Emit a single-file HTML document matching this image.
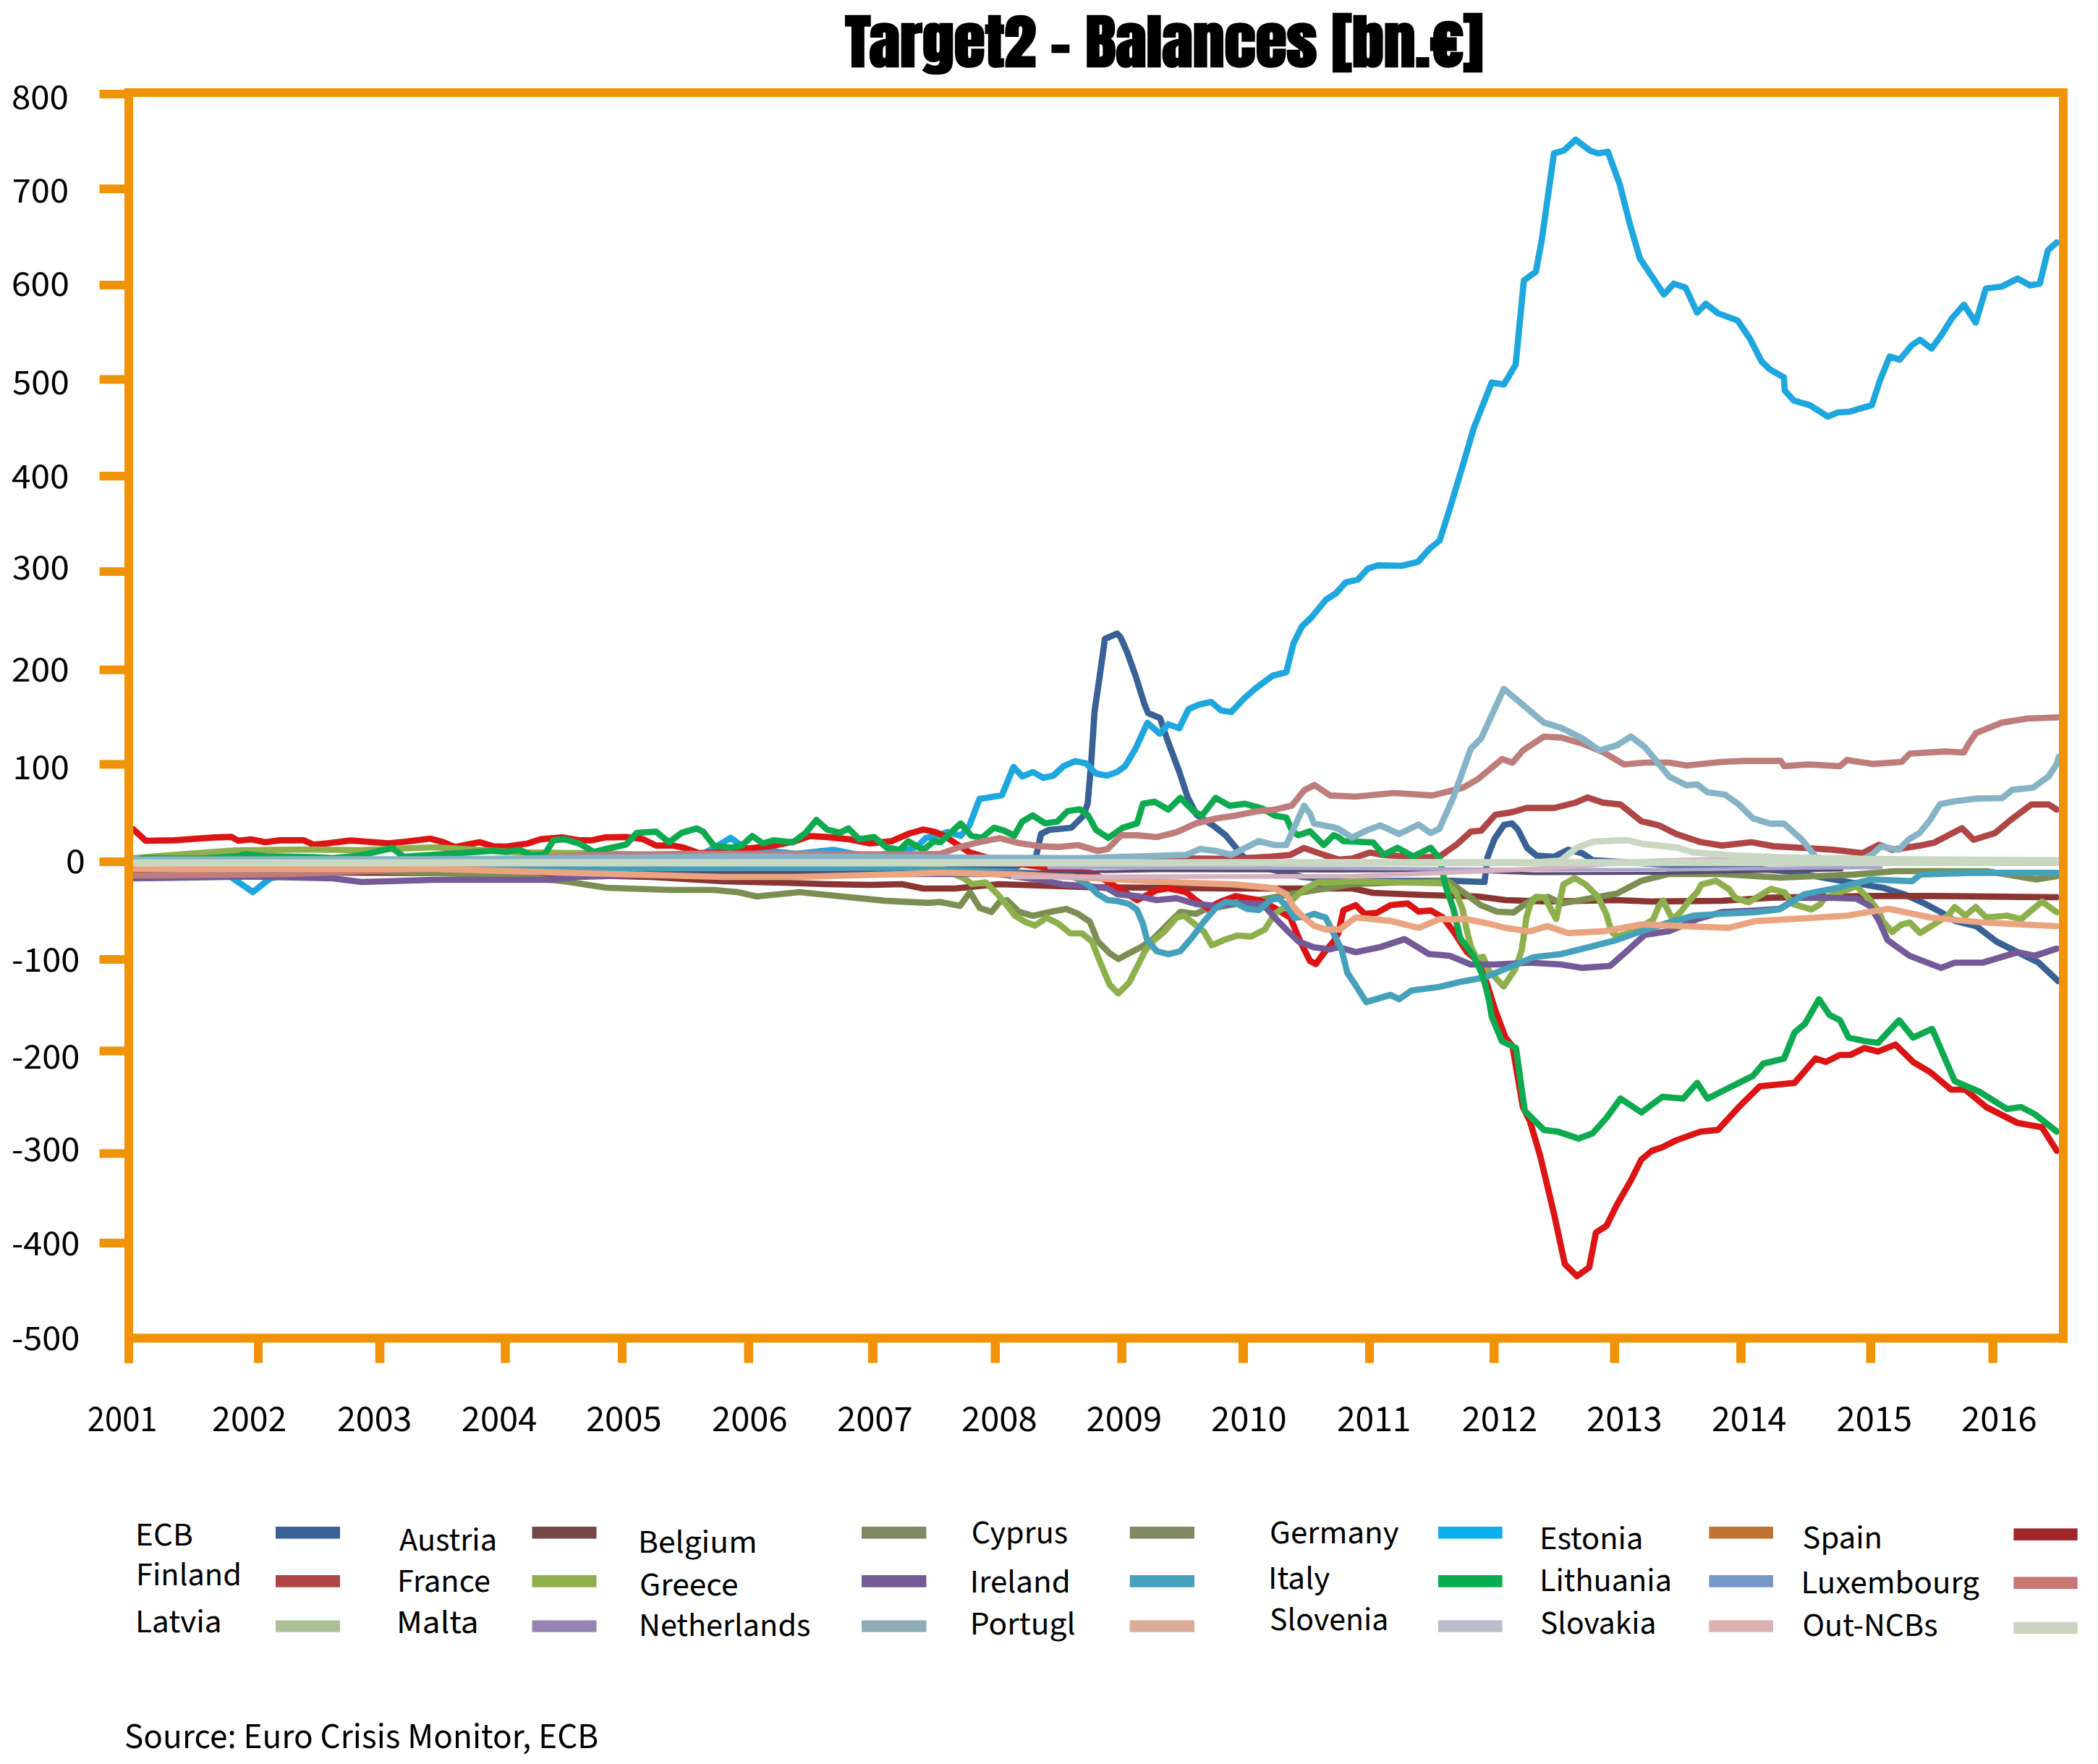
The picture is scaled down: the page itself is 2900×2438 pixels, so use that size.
<!DOCTYPE html>
<html><head><meta charset="utf-8"><title>Target2 - Balances</title>
<style>
html,body{margin:0;padding:0;background:#fff;}
body{width:2900px;height:2438px;overflow:hidden;}
svg{display:block;}
.t{font-family:"Anton","Liberation Sans",sans-serif;font-weight:700;font-synthesis:none;}
.m{font-family:"Source Sans 3","Liberation Sans",sans-serif;}
</style></head><body>
<svg width="2900" height="2438" viewBox="0 0 2900 2438">
<rect x="0" y="0" width="2900" height="2438" fill="#fff"/>

<text class="t" x="1168.5" y="92.3" font-size="81" textLength="882" lengthAdjust="spacingAndGlyphs" fill="#000" stroke="#000" stroke-width="2.6" stroke-linejoin="miter">Target2 - Balances [bn.€]</text>
<g fill="none" stroke-linejoin="round" stroke-linecap="round">
<polyline stroke="#3a6196" stroke-width="8.7" points="184.0,1203.0 800.0,1203.0 1400.0,1200.0 1432.0,1184.0 1439.0,1152.5 1450.0,1147.0 1481.0,1144.0 1498.0,1127.0 1503.5,1110.0 1508.3,1054.5 1513.0,983.0 1520.0,935.3 1527.3,883.0 1544.0,875.7 1548.8,880.5 1558.3,902.0 1570.0,935.0 1582.0,973.5 1587.0,985.4 1603.6,992.5 1613.0,1021.0 1630.0,1066.4 1641.7,1102.0 1654.0,1126.0 1677.0,1141.0 1694.0,1154.3 1707.5,1170.6 1718.4,1184.0 1750.0,1200.0 1800.0,1212.0 1860.0,1218.0 2000.0,1217.0 2052.0,1219.0 2056.0,1185.0 2066.0,1159.0 2079.0,1140.0 2090.0,1138.0 2098.0,1146.4 2111.0,1172.0 2124.0,1182.5 2148.5,1184.0 2167.7,1174.4 2187.0,1179.2 2201.4,1188.8 2300.0,1195.0 2420.0,1200.0 2479.0,1205.0 2504.0,1210.0 2566.0,1221.0 2603.0,1227.0 2631.5,1235.8 2660.0,1248.6 2681.5,1260.0 2703.0,1273.0 2731.6,1280.0 2760.0,1301.5 2788.8,1316.0 2817.4,1330.0 2845.0,1356.0"/>
<polyline stroke="#8a3532" stroke-width="8.7" points="184.0,1205.0 700.0,1207.0 900.0,1212.0 1000.0,1218.0 1084.0,1220.0 1143.0,1222.0 1202.0,1223.0 1247.0,1222.0 1276.0,1228.0 1320.0,1228.0 1381.0,1222.0 1500.0,1226.0 1700.0,1228.0 1870.0,1228.0 1898.0,1234.0 1970.0,1237.0 2043.0,1239.0 2081.0,1244.0 2139.0,1246.0 2235.0,1244.0 2283.0,1246.0 2380.0,1245.0 2449.0,1240.7 2586.0,1238.4 2677.5,1238.4 2843.0,1240.0"/>
<polyline stroke="#7b8f52" stroke-width="8.7" points="184.0,1200.0 500.0,1203.0 700.0,1210.0 780.0,1218.0 839.0,1227.0 927.8,1230.0 987.0,1230.0 1020.0,1233.0 1046.0,1239.0 1105.0,1233.0 1164.0,1239.0 1223.0,1244.8 1282.0,1247.8 1300.0,1246.7 1327.0,1252.0 1340.8,1233.0 1354.3,1254.9 1370.6,1260.3 1381.5,1246.7 1392.0,1244.0 1408.7,1260.3 1427.7,1265.7 1452.0,1260.3 1473.9,1256.2 1490.2,1263.0 1506.5,1273.9 1517.4,1301.0 1533.7,1317.4 1545.9,1325.5 1560.8,1317.4 1577.0,1309.2 1593.4,1298.3 1615.0,1276.6 1631.5,1260.3 1653.2,1263.0 1664.0,1257.6 1694.0,1252.0 1789.0,1235.0 1870.0,1222.0 2001.0,1217.0 2024.0,1234.0 2046.7,1251.0 2069.4,1260.0 2092.0,1261.2 2109.0,1248.8 2120.4,1242.0 2140.0,1239.7 2158.0,1248.7 2235.0,1235.0 2268.8,1217.4 2307.0,1207.8 2379.6,1207.8 2460.0,1213.0 2563.0,1208.6 2620.0,1204.0 2746.0,1204.0 2815.0,1215.5 2843.0,1211.0"/>
<polyline stroke="#1ea6de" stroke-width="8.7" points="184.0,1200.0 300.0,1203.0 320.0,1212.7 349.5,1232.8 373.5,1214.0 420.0,1204.0 600.0,1200.0 800.0,1198.0 950.0,1192.0 990.0,1170.0 1010.0,1158.0 1030.0,1172.0 1100.0,1180.0 1152.0,1174.6 1200.0,1184.0 1250.0,1176.0 1268.0,1170.0 1280.0,1158.0 1292.0,1156.0 1310.0,1150.0 1328.0,1155.0 1340.0,1141.0 1354.0,1104.0 1362.0,1103.0 1385.0,1099.0 1401.0,1060.0 1413.0,1073.0 1428.0,1067.0 1442.0,1075.0 1456.0,1072.0 1470.0,1059.0 1486.0,1052.0 1501.0,1055.0 1515.0,1069.0 1530.0,1072.0 1544.0,1067.0 1555.0,1059.0 1569.0,1036.0 1586.0,999.0 1603.0,1014.0 1615.0,1001.0 1630.0,1006.5 1643.0,980.0 1657.0,974.0 1674.0,970.0 1688.0,982.0 1702.0,984.0 1720.0,965.0 1736.0,951.0 1759.0,934.0 1778.0,929.0 1788.0,889.0 1799.5,866.0 1813.0,853.0 1832.7,829.0 1846.5,820.0 1860.0,805.0 1877.0,801.0 1890.8,785.8 1904.6,781.4 1937.8,782.0 1960.0,776.5 1976.5,758.0 1990.0,747.0 2004.0,703.0 2020.7,647.6 2037.0,592.0 2062.0,528.7 2078.7,531.5 2095.0,504.0 2106.4,387.8 2123.0,375.6 2131.0,332.5 2148.0,212.0 2161.7,208.0 2178.0,193.0 2197.6,208.0 2208.7,212.0 2222.5,209.7 2239.0,255.0 2253.0,310.0 2266.7,357.0 2300.0,407.0 2313.7,392.0 2330.0,397.7 2345.8,432.0 2358.0,419.8 2374.6,433.0 2402.0,443.0 2418.8,468.0 2435.0,499.5 2446.4,510.5 2465.8,521.6 2467.0,539.8 2479.6,553.6 2501.7,560.0 2526.6,575.7 2540.4,570.0 2557.0,569.0 2570.8,564.7 2587.4,560.0 2598.5,526.0 2612.0,492.8 2626.0,497.0 2642.7,477.0 2653.8,469.6 2670.0,481.7 2684.0,462.4 2698.0,440.0 2714.6,421.0 2731.0,445.8 2745.0,398.8 2767.0,396.0 2789.0,385.0 2805.8,394.4 2819.6,392.0 2830.7,346.0 2843.0,335.0"/>
<polyline stroke="#dc1414" stroke-width="8.7" points="184.0,1146.0 201.4,1162.0 240.0,1161.4 297.4,1157.4 320.0,1156.7 329.5,1162.0 346.8,1160.0 366.8,1164.0 386.9,1161.4 420.0,1161.4 433.6,1167.4 453.0,1165.5 484.6,1161.6 537.0,1165.5 563.0,1163.0 594.7,1159.0 613.0,1164.0 628.8,1170.8 647.0,1167.0 663.0,1164.0 681.0,1169.5 700.0,1170.0 729.6,1165.7 747.3,1159.8 776.8,1157.4 800.5,1161.3 818.2,1161.3 836.0,1157.4 865.5,1156.8 889.0,1159.8 906.9,1168.7 930.5,1168.7 945.3,1171.6 966.0,1179.0 1000.0,1178.0 1040.0,1172.0 1069.4,1168.7 1099.0,1162.7 1119.6,1155.4 1143.3,1156.8 1172.8,1159.8 1202.4,1165.7 1232.0,1162.7 1255.6,1152.4 1276.3,1146.5 1291.0,1149.4 1305.8,1155.4 1320.0,1165.0 1340.0,1178.0 1380.0,1190.0 1450.0,1200.0 1512.0,1207.0 1550.0,1230.0 1571.7,1244.0 1598.9,1230.4 1615.0,1227.7 1639.6,1233.0 1653.0,1244.0 1669.5,1255.0 1690.0,1245.0 1707.5,1238.6 1740.0,1244.0 1762.0,1255.0 1783.6,1268.4 1797.2,1301.0 1810.8,1328.2 1819.0,1332.3 1829.8,1317.4 1843.4,1301.0 1850.0,1289.6 1857.0,1258.0 1874.0,1251.0 1886.0,1263.0 1903.0,1261.7 1922.0,1251.0 1946.0,1248.7 1960.7,1259.8 1977.6,1258.3 1994.4,1268.0 2009.0,1287.0 2028.0,1316.0 2042.6,1328.0 2054.6,1357.0 2066.6,1395.5 2081.0,1434.0 2090.7,1446.0 2105.0,1530.0 2114.8,1549.6 2129.0,1597.7 2148.5,1679.6 2163.0,1747.0 2179.8,1763.8 2196.6,1751.8 2206.0,1703.6 2220.7,1694.0 2235.0,1665.0 2254.4,1631.4 2268.8,1602.5 2283.3,1590.5 2297.7,1585.7 2317.0,1576.0 2350.7,1564.0 2374.7,1561.6 2403.6,1530.0 2432.5,1501.4 2456.6,1499.0 2480.6,1496.6 2509.5,1463.0 2524.0,1467.7 2543.0,1458.0 2557.7,1458.0 2577.0,1448.5 2596.0,1453.3 2620.0,1443.7 2644.4,1467.7 2668.4,1482.0 2697.0,1506.0 2716.6,1506.0 2745.4,1530.0 2788.8,1552.0 2822.5,1558.0 2843.0,1590.5"/>
<polyline stroke="#b04545" stroke-width="8.7" points="184.0,1192.0 1400.0,1191.0 1536.0,1187.0 1600.0,1186.0 1700.0,1187.0 1756.4,1184.0 1783.6,1181.5 1802.6,1172.0 1829.8,1181.5 1850.0,1188.0 1869.0,1186.5 1893.3,1178.3 1912.6,1181.6 1960.7,1185.0 1989.6,1184.0 2013.7,1167.0 2033.0,1149.4 2047.4,1148.0 2066.6,1126.3 2090.7,1122.4 2110.0,1116.6 2148.5,1116.6 2177.4,1109.4 2194.2,1102.2 2216.0,1109.4 2240.0,1111.8 2268.8,1135.0 2293.0,1140.7 2317.0,1152.7 2350.7,1163.8 2380.0,1168.6 2421.0,1164.0 2451.8,1169.6 2494.0,1172.0 2533.6,1174.4 2574.5,1179.0 2597.0,1167.5 2615.5,1174.4 2654.6,1168.6 2673.0,1164.8 2712.0,1144.6 2728.0,1160.6 2757.6,1151.4 2779.0,1133.5 2808.0,1111.8 2832.0,1111.8 2843.0,1119.0"/>
<polyline stroke="#8db04d" stroke-width="8.7" points="184.0,1186.0 253.4,1180.7 286.8,1178.0 326.8,1175.4 420.0,1174.0 500.0,1175.0 600.0,1171.0 720.0,1178.0 850.0,1180.0 1000.0,1185.0 1200.0,1190.0 1300.0,1200.0 1332.6,1214.0 1343.5,1222.0 1362.5,1219.5 1378.8,1235.8 1392.4,1252.0 1403.2,1265.7 1416.8,1274.0 1430.4,1279.3 1446.7,1268.4 1463.0,1276.6 1479.3,1290.0 1495.6,1290.0 1509.2,1301.0 1520.0,1328.0 1533.7,1360.8 1545.9,1373.0 1560.8,1358.0 1571.7,1336.4 1582.6,1314.6 1593.4,1301.0 1609.7,1287.5 1626.0,1268.4 1636.9,1265.7 1650.5,1276.6 1664.0,1287.5 1675.0,1306.5 1694.0,1298.3 1710.3,1293.0 1729.3,1294.3 1748.3,1284.7 1761.9,1263.0 1778.2,1252.0 1794.5,1235.8 1805.3,1227.7 1821.6,1219.5 1843.4,1219.5 1870.0,1218.0 2000.0,1221.0 2007.0,1228.3 2012.7,1234.0 2021.7,1256.7 2027.4,1285.0 2033.0,1307.7 2041.0,1324.7 2050.0,1322.4 2058.0,1341.7 2078.4,1363.3 2094.3,1339.5 2103.4,1313.4 2110.0,1268.0 2114.7,1251.0 2122.7,1239.7 2135.0,1240.0 2151.0,1270.0 2161.0,1222.5 2176.6,1213.5 2192.0,1222.5 2207.5,1238.0 2213.0,1248.4 2220.5,1263.6 2224.3,1277.4 2229.7,1290.0 2235.8,1294.0 2250.0,1290.0 2270.0,1280.0 2285.0,1271.0 2293.0,1252.0 2299.0,1244.6 2304.4,1256.0 2312.0,1271.0 2323.5,1260.0 2335.0,1244.6 2346.0,1233.0 2351.7,1222.5 2372.0,1217.3 2390.0,1229.0 2398.6,1241.0 2417.0,1247.0 2448.0,1228.5 2466.8,1233.5 2479.0,1249.6 2504.0,1257.0 2516.0,1249.6 2522.5,1241.0 2566.0,1224.8 2584.5,1243.4 2597.0,1259.5 2603.0,1274.0 2615.5,1288.0 2628.0,1278.0 2640.0,1275.0 2654.0,1289.6 2692.5,1265.5 2702.0,1253.5 2716.6,1265.5 2731.0,1253.5 2745.4,1268.0 2774.3,1265.5 2793.6,1270.4 2822.5,1246.0 2843.0,1260.7"/>
<polyline stroke="#745a96" stroke-width="8.7" points="184.0,1214.0 346.8,1211.4 460.0,1214.0 500.0,1219.0 600.0,1216.0 759.0,1216.0 800.0,1212.0 900.0,1209.0 1200.0,1208.0 1380.0,1208.0 1441.3,1216.8 1468.4,1222.3 1506.5,1225.0 1531.0,1227.7 1544.5,1235.8 1571.7,1238.6 1598.9,1244.0 1626.0,1241.3 1653.2,1249.4 1680.4,1252.0 1707.5,1248.0 1745.6,1249.4 1762.0,1268.4 1778.0,1284.7 1794.5,1301.0 1816.2,1309.2 1838.0,1312.0 1850.0,1309.0 1874.0,1316.0 1907.8,1309.0 1941.5,1298.0 1975.0,1318.5 2004.0,1321.0 2033.0,1333.0 2066.6,1333.0 2114.8,1330.5 2158.0,1333.0 2187.0,1337.7 2225.5,1335.0 2249.6,1313.7 2273.6,1292.0 2307.0,1287.0 2345.9,1270.4 2379.6,1260.7 2427.7,1258.3 2460.0,1256.0 2485.0,1241.0 2533.6,1241.0 2566.0,1242.0 2584.5,1252.0 2597.0,1272.0 2609.0,1299.0 2615.5,1304.0 2639.5,1321.0 2683.0,1337.7 2702.0,1330.5 2740.6,1330.5 2788.8,1316.0 2812.8,1321.0 2843.0,1311.0"/>
<polyline stroke="#45a0bb" stroke-width="8.7" points="184.0,1200.0 1000.0,1201.0 1200.0,1200.0 1400.0,1205.0 1480.0,1210.0 1503.8,1222.3 1517.4,1235.8 1531.0,1244.0 1544.5,1245.4 1560.8,1249.4 1571.7,1257.6 1579.8,1276.6 1585.3,1298.3 1598.9,1314.6 1615.2,1318.7 1631.5,1314.6 1647.8,1295.6 1664.0,1273.9 1680.4,1254.9 1694.0,1246.7 1707.5,1248.0 1723.8,1256.2 1740.1,1257.6 1756.4,1244.0 1767.3,1241.3 1778.2,1252.0 1789.0,1268.4 1805.3,1267.0 1816.2,1263.0 1832.5,1268.4 1843.4,1290.2 1854.2,1312.0 1862.4,1344.5 1874.0,1362.0 1888.5,1385.0 1922.0,1375.0 1934.0,1381.0 1951.0,1369.0 1989.6,1364.0 2018.5,1357.0 2052.0,1351.0 2090.7,1335.0 2119.6,1323.0 2158.0,1318.5 2196.6,1309.0 2235.0,1299.0 2268.8,1287.0 2307.0,1275.0 2341.0,1265.5 2379.6,1263.0 2427.7,1260.7 2460.0,1256.7 2494.0,1236.0 2540.0,1227.0 2586.0,1215.5 2643.0,1217.8 2654.6,1208.6 2723.0,1206.4 2843.0,1206.4"/>
<polyline stroke="#0eaa4f" stroke-width="8.7" points="184.0,1190.0 200.0,1186.0 220.0,1186.0 266.7,1186.7 286.8,1186.0 326.8,1183.4 340.0,1180.7 366.8,1183.4 433.6,1184.7 460.0,1186.0 500.0,1182.0 542.0,1172.0 558.0,1184.0 620.0,1180.0 680.0,1176.0 700.0,1177.5 717.7,1174.6 735.5,1182.0 753.0,1180.5 765.0,1161.3 779.8,1159.8 800.5,1165.7 821.0,1177.5 838.9,1173.0 865.5,1167.2 880.3,1151.0 906.9,1149.4 924.6,1164.2 942.3,1151.0 963.0,1145.0 971.9,1149.4 986.6,1168.7 1010.3,1171.6 1025.0,1168.7 1039.8,1155.4 1054.6,1165.7 1069.4,1161.3 1096.0,1164.2 1113.7,1151.0 1128.5,1133.2 1143.3,1146.5 1161.0,1151.0 1172.8,1145.0 1187.6,1159.8 1208.3,1156.8 1226.0,1171.6 1243.7,1174.6 1255.6,1162.7 1276.3,1174.6 1291.0,1162.7 1300.0,1164.0 1328.0,1138.0 1342.5,1155.0 1357.0,1158.0 1374.0,1144.0 1388.0,1148.0 1402.0,1155.0 1413.0,1135.5 1427.5,1127.0 1444.6,1138.0 1461.6,1135.5 1475.7,1121.0 1492.7,1118.5 1504.0,1127.0 1515.0,1147.0 1532.0,1158.0 1552.0,1144.0 1571.7,1138.0 1579.8,1110.9 1596.0,1108.0 1615.0,1119.0 1631.5,1102.7 1650.5,1121.7 1661.4,1127.2 1680.4,1102.7 1699.4,1113.6 1721.0,1110.9 1745.6,1117.7 1762.0,1127.2 1778.0,1130.0 1786.3,1149.0 1794.5,1154.3 1810.8,1149.0 1829.8,1168.0 1843.4,1154.3 1850.0,1157.0 1857.0,1162.5 1898.0,1164.4 1912.6,1181.3 1931.8,1171.7 1953.5,1183.7 1977.6,1171.7 1989.6,1186.0 1999.0,1227.0 2009.0,1256.0 2018.3,1296.4 2035.4,1319.0 2046.7,1341.7 2052.4,1358.7 2058.0,1381.4 2062.0,1405.0 2076.0,1438.8 2095.5,1448.5 2107.6,1535.0 2134.0,1561.6 2153.3,1564.0 2182.0,1573.6 2201.4,1566.4 2220.7,1544.8 2240.0,1518.3 2268.8,1537.5 2297.7,1515.9 2326.6,1518.3 2345.9,1496.6 2360.3,1518.3 2394.0,1501.4 2423.0,1487.0 2437.3,1470.0 2466.0,1463.0 2480.6,1426.8 2495.0,1414.8 2514.3,1381.0 2528.8,1402.7 2543.2,1410.0 2555.3,1434.0 2577.0,1438.8 2596.0,1441.3 2625.0,1410.0 2644.4,1434.0 2670.8,1422.0 2702.0,1494.2 2735.8,1508.7 2774.3,1532.7 2793.6,1530.0 2812.8,1540.0 2843.0,1564.0"/>
<polyline stroke="#be7c7b" stroke-width="8.7" points="184.0,1210.0 400.0,1208.0 600.0,1200.0 700.0,1190.0 800.0,1182.0 950.0,1180.0 1100.0,1180.0 1250.0,1181.0 1300.0,1180.0 1327.0,1170.6 1354.3,1163.8 1381.5,1158.4 1408.7,1165.2 1435.8,1169.3 1463.0,1170.6 1490.2,1168.0 1517.4,1176.0 1531.0,1173.4 1550.0,1154.3 1571.7,1154.3 1598.9,1157.0 1626.0,1150.3 1653.2,1138.0 1680.4,1131.2 1707.5,1127.2 1734.7,1121.7 1761.9,1119.0 1785.6,1113.5 1803.0,1092.0 1817.0,1085.0 1838.6,1099.4 1874.0,1101.0 1927.0,1096.0 1980.0,1099.4 2022.0,1088.8 2042.6,1077.0 2076.3,1049.2 2090.7,1054.0 2105.0,1037.2 2134.0,1018.0 2158.0,1019.4 2187.0,1027.6 2216.0,1039.6 2244.8,1056.5 2273.6,1054.0 2307.3,1054.0 2331.4,1058.0 2379.6,1053.0 2413.0,1051.6 2461.4,1051.6 2466.2,1058.9 2500.0,1056.5 2543.2,1058.9 2553.0,1050.2 2560.0,1051.5 2588.6,1055.8 2628.6,1053.0 2640.0,1041.5 2688.7,1038.6 2714.4,1040.0 2721.6,1027.2 2731.6,1013.0 2767.4,998.6 2803.0,993.0 2845.0,991.5"/>
<polyline stroke="#5a4a72" stroke-width="4" points="800.0,1206.5 1500.0,1205.0 1600.0,1203.5 1850.0,1204.0 2000.0,1203.0 2120.0,1207.5 2300.0,1207.0 2400.0,1205.0 2546.0,1202.5"/>
<polyline stroke="#86b3c6" stroke-width="8.7" points="184.0,1188.0 600.0,1187.5 900.0,1185.0 1000.0,1183.5 1300.0,1185.0 1500.0,1186.0 1639.6,1181.5 1658.6,1173.4 1680.4,1176.0 1702.0,1181.5 1718.4,1173.4 1740.0,1162.5 1761.9,1168.0 1778.0,1168.0 1789.0,1143.5 1802.6,1113.6 1810.8,1124.5 1816.2,1138.0 1843.4,1143.5 1850.0,1145.5 1869.0,1157.6 1888.5,1148.0 1907.8,1140.7 1934.0,1152.7 1960.7,1139.7 1977.6,1151.3 1989.6,1145.5 2009.0,1102.0 2033.0,1034.8 2047.4,1020.4 2078.7,952.0 2100.0,969.8 2134.0,998.7 2158.0,1006.0 2187.0,1020.4 2211.0,1037.2 2235.0,1030.0 2254.4,1018.0 2273.6,1032.4 2307.3,1073.3 2331.4,1085.3 2346.0,1084.0 2360.3,1095.0 2384.4,1098.3 2403.6,1111.8 2423.0,1131.0 2447.0,1138.3 2466.0,1138.3 2490.3,1160.0 2509.5,1184.0 2540.0,1192.0 2570.0,1190.0 2588.6,1180.0 2600.0,1170.0 2624.4,1174.5 2638.6,1160.0 2653.0,1151.6 2667.0,1134.5 2681.5,1111.6 2703.0,1107.3 2731.6,1103.7 2767.4,1103.0 2781.6,1091.6 2810.0,1088.7 2831.7,1073.0 2843.0,1055.8 2846.0,1045.8"/>
<polyline stroke="#eaa47f" stroke-width="8.7" points="184.0,1201.0 600.0,1201.0 850.0,1208.0 1000.0,1212.0 1100.0,1212.0 1250.0,1208.0 1300.0,1206.0 1408.7,1208.7 1517.4,1214.0 1626.0,1219.5 1707.5,1222.3 1762.0,1227.7 1778.0,1235.8 1789.0,1254.9 1802.6,1268.4 1816.2,1279.3 1832.5,1284.7 1851.5,1284.7 1874.0,1268.0 1922.0,1272.8 1960.7,1282.4 1989.6,1270.4 2028.0,1270.4 2062.0,1277.6 2081.0,1282.4 2114.8,1287.2 2138.8,1280.0 2167.7,1289.6 2216.0,1287.2 2268.8,1277.6 2326.6,1280.0 2389.0,1282.4 2427.7,1272.8 2514.3,1268.0 2553.0,1265.5 2610.6,1256.0 2668.4,1268.0 2740.6,1275.0 2843.0,1280.0"/>
<polyline stroke="#a9a6cc" stroke-width="5" points="1450.0,1199.0 1850.0,1200.0 2120.0,1202.0 2300.0,1202.0 2500.0,1199.5 2600.0,1199.0"/>
<polyline stroke="#d6b2c0" stroke-width="6.5" points="1400.0,1212.0 1870.0,1211.0 2000.0,1206.0 2140.0,1200.0 2280.0,1190.0 2480.0,1185.0 2560.0,1185.0"/>
<polyline stroke="#c9d8c2" stroke-width="10" points="184.0,1192.5 1400.0,1192.5 2843.0,1192.0"/>
<polyline stroke="#c9d8c2" stroke-width="9" points="2120.0,1192.0 2157.0,1189.5 2180.0,1171.2 2203.0,1163.2 2248.7,1161.0 2271.6,1166.6 2317.4,1171.2 2340.0,1178.0 2397.5,1182.6 2466.0,1185.0 2580.0,1187.3 2843.0,1189.0"/>
</g>
<g fill="#f09308">
<rect x="172" y="122" width="12" height="1762"/>
<rect x="172" y="122" width="2686" height="12"/>
<rect x="2846" y="122" width="12" height="1734"/>
<rect x="172" y="1843.3" width="2686" height="12.3"/>
<rect x="137.5" y="124" width="35" height="12"/>
<rect x="137.5" y="255" width="35" height="12"/>
<rect x="137.5" y="388" width="35" height="12"/>
<rect x="137.5" y="518.4" width="35" height="12"/>
<rect x="137.5" y="652" width="35" height="12"/>
<rect x="137.5" y="784" width="35" height="12"/>
<rect x="137.5" y="919.8" width="35" height="12"/>
<rect x="137.5" y="1050.4" width="35" height="12"/>
<rect x="137.5" y="1185" width="35" height="12"/>
<rect x="137.5" y="1320" width="35" height="12"/>
<rect x="137.5" y="1446.5" width="35" height="12"/>
<rect x="137.5" y="1588.3" width="35" height="12"/>
<rect x="137.5" y="1712" width="35" height="12"/>
<rect x="351" y="1855" width="12" height="28.7"/>
<rect x="518.7" y="1855" width="12.6" height="28.7"/>
<rect x="692.2" y="1855" width="12.6" height="28.7"/>
<rect x="854" y="1855" width="12" height="28.7"/>
<rect x="1028.5" y="1855" width="12.5" height="28.7"/>
<rect x="1200" y="1855" width="13" height="28.7"/>
<rect x="1369.5" y="1855" width="12.5" height="28.7"/>
<rect x="1544.5" y="1855" width="12.5" height="28.7"/>
<rect x="1712" y="1855" width="13" height="28.7"/>
<rect x="1887" y="1855" width="12" height="28.7"/>
<rect x="2059" y="1855" width="12.5" height="28.7"/>
<rect x="2225.5" y="1855" width="12.5" height="28.7"/>
<rect x="2400" y="1855" width="13" height="28.7"/>
<rect x="2579.5" y="1855" width="12.5" height="28.7"/>
<rect x="2748.5" y="1855" width="12.5" height="28.7"/>
</g>
<text class="m" x="15.9" y="150.9" font-size="49.0" textLength="78.99" lengthAdjust="spacingAndGlyphs" fill="#000">800</text>
<text class="m" x="16.8" y="280.3" font-size="49.0" textLength="78.23" lengthAdjust="spacingAndGlyphs" fill="#000">700</text>
<text class="m" x="15.9" y="408.9" font-size="49.0" textLength="79.94" lengthAdjust="spacingAndGlyphs" fill="#000">600</text>
<text class="m" x="16.9" y="544.7" font-size="49.0" textLength="78.78" lengthAdjust="spacingAndGlyphs" fill="#000">500</text>
<text class="m" x="16.0" y="674.8" font-size="49.0" textLength="79.32" lengthAdjust="spacingAndGlyphs" fill="#000">400</text>
<text class="m" x="16.9" y="800.5" font-size="49.0" textLength="78.78" lengthAdjust="spacingAndGlyphs" fill="#000">300</text>
<text class="m" x="15.9" y="941.9" font-size="49.0" textLength="79.85" lengthAdjust="spacingAndGlyphs" fill="#000">200</text>
<text class="m" x="17.6" y="1077.3" font-size="49.0" textLength="78.09" lengthAdjust="spacingAndGlyphs" fill="#000">100</text>
<text class="m" x="91.0" y="1206.6" font-size="49.0" textLength="26.81" lengthAdjust="spacingAndGlyphs" fill="#000">0</text>
<text class="m" x="15.9" y="1343.1" font-size="49.0" textLength="94.41" lengthAdjust="spacingAndGlyphs" fill="#000">-100</text>
<text class="m" x="15.9" y="1477.3" font-size="49.0" textLength="94.41" lengthAdjust="spacingAndGlyphs" fill="#000">-200</text>
<text class="m" x="15.9" y="1605.3" font-size="49.0" textLength="94.41" lengthAdjust="spacingAndGlyphs" fill="#000">-300</text>
<text class="m" x="15.9" y="1735.3" font-size="49.0" textLength="94.41" lengthAdjust="spacingAndGlyphs" fill="#000">-400</text>
<text class="m" x="15.9" y="1865.6" font-size="49.0" textLength="94.41" lengthAdjust="spacingAndGlyphs" fill="#000">-500</text>
<text class="m" x="120.8" y="1978.0" font-size="51.0" textLength="96.74" lengthAdjust="spacingAndGlyphs" fill="#000">2001</text>
<text class="m" x="293.1" y="1978.0" font-size="51.0" textLength="103.27" lengthAdjust="spacingAndGlyphs" fill="#000">2002</text>
<text class="m" x="466.0" y="1978.0" font-size="51.0" textLength="103.48" lengthAdjust="spacingAndGlyphs" fill="#000">2003</text>
<text class="m" x="637.8" y="1978.0" font-size="51.0" textLength="104.49" lengthAdjust="spacingAndGlyphs" fill="#000">2004</text>
<text class="m" x="809.9" y="1978.0" font-size="51.0" textLength="104.94" lengthAdjust="spacingAndGlyphs" fill="#000">2005</text>
<text class="m" x="984.0" y="1978.0" font-size="51.0" textLength="104.53" lengthAdjust="spacingAndGlyphs" fill="#000">2006</text>
<text class="m" x="1157.0" y="1978.0" font-size="51.0" textLength="104.53" lengthAdjust="spacingAndGlyphs" fill="#000">2007</text>
<text class="m" x="1329.0" y="1978.0" font-size="51.0" textLength="104.53" lengthAdjust="spacingAndGlyphs" fill="#000">2008</text>
<text class="m" x="1501.5" y="1978.0" font-size="51.0" textLength="104.57" lengthAdjust="spacingAndGlyphs" fill="#000">2009</text>
<text class="m" x="1674.0" y="1978.0" font-size="51.0" textLength="104.53" lengthAdjust="spacingAndGlyphs" fill="#000">2010</text>
<text class="m" x="1848.0" y="1978.0" font-size="51.0" textLength="102.45" lengthAdjust="spacingAndGlyphs" fill="#000">2011</text>
<text class="m" x="2020.5" y="1978.0" font-size="51.0" textLength="104.53" lengthAdjust="spacingAndGlyphs" fill="#000">2012</text>
<text class="m" x="2193.0" y="1978.0" font-size="51.0" textLength="104.53" lengthAdjust="spacingAndGlyphs" fill="#000">2013</text>
<text class="m" x="2366.0" y="1978.0" font-size="51.0" textLength="103.46" lengthAdjust="spacingAndGlyphs" fill="#000">2014</text>
<text class="m" x="2538.5" y="1978.0" font-size="51.0" textLength="104.56" lengthAdjust="spacingAndGlyphs" fill="#000">2015</text>
<text class="m" x="2711.0" y="1978.0" font-size="51.0" textLength="104.53" lengthAdjust="spacingAndGlyphs" fill="#000">2016</text>
<text class="m" x="187.0" y="2136.0" font-size="46.0" textLength="79.76" lengthAdjust="spacingAndGlyphs" fill="#000">ECB</text>
<text class="m" x="188.0" y="2191.0" font-size="46.0" textLength="145.87" lengthAdjust="spacingAndGlyphs" fill="#000">Finland</text>
<text class="m" x="187.0" y="2256.0" font-size="46.0" textLength="119.68" lengthAdjust="spacingAndGlyphs" fill="#000">Latvia</text>
<text class="m" x="552.0" y="2143.0" font-size="46.0" textLength="135.11" lengthAdjust="spacingAndGlyphs" fill="#000">Austria</text>
<text class="m" x="549.0" y="2200.0" font-size="46.0" textLength="128.89" lengthAdjust="spacingAndGlyphs" fill="#000">France</text>
<text class="m" x="548.0" y="2257.0" font-size="46.0" textLength="113.65" lengthAdjust="spacingAndGlyphs" fill="#000">Malta</text>
<text class="m" x="882.0" y="2146.0" font-size="46.0" textLength="164.54" lengthAdjust="spacingAndGlyphs" fill="#000">Belgium</text>
<text class="m" x="884.0" y="2204.5" font-size="46.0" textLength="136.51" lengthAdjust="spacingAndGlyphs" fill="#000">Greece</text>
<text class="m" x="883.0" y="2260.5" font-size="46.0" textLength="237.39" lengthAdjust="spacingAndGlyphs" fill="#000">Netherlands</text>
<text class="m" x="1342.8" y="2133.0" font-size="46.0" textLength="133.34" lengthAdjust="spacingAndGlyphs" fill="#000">Cyprus</text>
<text class="m" x="1340.8" y="2201.0" font-size="46.0" textLength="139.03" lengthAdjust="spacingAndGlyphs" fill="#000">Ireland</text>
<text class="m" x="1340.8" y="2259.2" font-size="46.0" textLength="145.73" lengthAdjust="spacingAndGlyphs" fill="#000">Portugl</text>
<text class="m" x="1755.0" y="2133.0" font-size="46.0" textLength="178.61" lengthAdjust="spacingAndGlyphs" fill="#000">Germany</text>
<text class="m" x="1753.0" y="2196.1" font-size="46.0" textLength="85.21" lengthAdjust="spacingAndGlyphs" fill="#000">Italy</text>
<text class="m" x="1755.0" y="2253.0" font-size="46.0" textLength="164.45" lengthAdjust="spacingAndGlyphs" fill="#000">Slovenia</text>
<text class="m" x="2128.0" y="2141.0" font-size="46.0" textLength="143.38" lengthAdjust="spacingAndGlyphs" fill="#000">Estonia</text>
<text class="m" x="2128.0" y="2198.7" font-size="46.0" textLength="182.96" lengthAdjust="spacingAndGlyphs" fill="#000">Lithuania</text>
<text class="m" x="2129.0" y="2258.4" font-size="46.0" textLength="160.42" lengthAdjust="spacingAndGlyphs" fill="#000">Slovakia</text>
<text class="m" x="2491.5" y="2139.8" font-size="46.0" textLength="110.61" lengthAdjust="spacingAndGlyphs" fill="#000">Spain</text>
<text class="m" x="2489.5" y="2201.5" font-size="46.0" textLength="246.38" lengthAdjust="spacingAndGlyphs" fill="#000">Luxembourg</text>
<text class="m" x="2491.5" y="2261.0" font-size="46.0" textLength="186.99" lengthAdjust="spacingAndGlyphs" fill="#000">Out-NCBs</text>
<rect x="381" y="2110" width="89.0" height="16.6" fill="#3a6196"/>
<rect x="381" y="2177" width="89.0" height="16.7" fill="#b04545"/>
<rect x="381" y="2239.4" width="89.0" height="16.3" fill="#adc095"/>
<rect x="735.5" y="2110" width="89.0" height="16.6" fill="#774646"/>
<rect x="735.5" y="2177" width="89.0" height="16.7" fill="#8db04d"/>
<rect x="735.5" y="2239.4" width="89.0" height="16.3" fill="#9884b0"/>
<rect x="1191" y="2110" width="89.4" height="16.6" fill="#808a62"/>
<rect x="1191" y="2177" width="89.4" height="16.7" fill="#745a96"/>
<rect x="1191" y="2239.4" width="89.4" height="16.3" fill="#8eadb8"/>
<rect x="1561.7" y="2110" width="89.3" height="16.6" fill="#808a62"/>
<rect x="1561.7" y="2177" width="89.3" height="16.7" fill="#45a0bb"/>
<rect x="1561.7" y="2239.4" width="89.3" height="16.3" fill="#d9ad97"/>
<rect x="1988" y="2110" width="88.6" height="16.6" fill="#0bafec"/>
<rect x="1988" y="2177" width="88.6" height="16.7" fill="#0aae50"/>
<rect x="1988" y="2239.4" width="88.6" height="16.3" fill="#b8bdc9"/>
<rect x="2362.4" y="2110" width="88.6" height="16.6" fill="#c07232"/>
<rect x="2362.4" y="2177" width="88.6" height="16.7" fill="#7896c8"/>
<rect x="2362.4" y="2239.4" width="88.6" height="16.3" fill="#dbb0b1"/>
<rect x="2783.4" y="2112.4" width="88.3" height="16.6" fill="#a2272b"/>
<rect x="2783.4" y="2179.4" width="88.3" height="16.7" fill="#c97773"/>
<rect x="2783.4" y="2241.8" width="88.3" height="16.3" fill="#c9d3bf"/>
<text class="m" x="172.0" y="2416.4" font-size="50.0" textLength="655.36" lengthAdjust="spacingAndGlyphs" fill="#000">Source: Euro Crisis Monitor, ECB</text>
</svg></body></html>
